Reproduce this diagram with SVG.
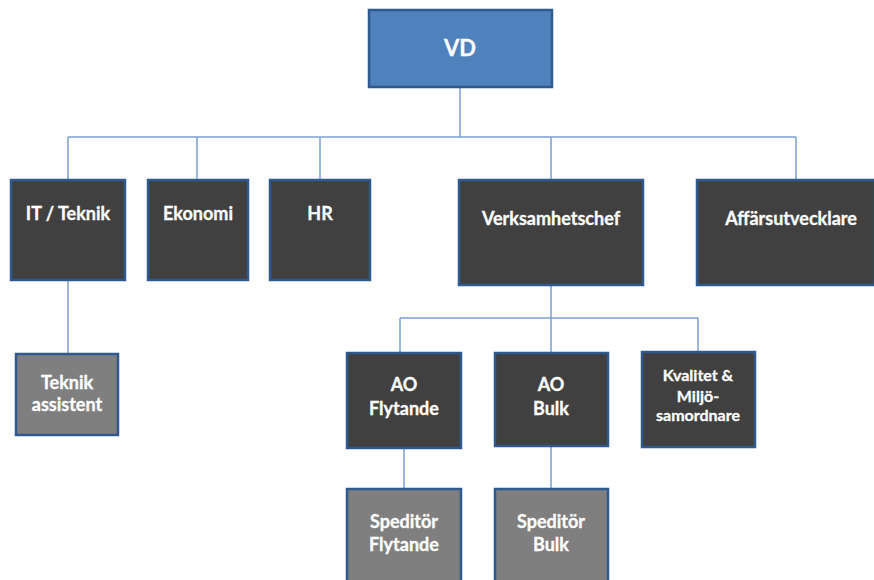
<svg xmlns="http://www.w3.org/2000/svg" width="874" height="580" viewBox="0 0 874 580">
<style>
.c{stroke:#7ba0cf;stroke-width:1.5;fill:none}
.dark{fill:#404040;stroke:#2f5a8f;stroke-width:2.5}
.grey{fill:#7f7f7f;stroke:#2f5a8f;stroke-width:2.5}
.vd{fill:#4f81bd;stroke:#2f5a8f;stroke-width:2.5}
text{font-family:Lato,"Open Sans","Liberation Sans",sans-serif;font-weight:bold;fill:#ffffff;text-anchor:middle;stroke:#ffffff;stroke-width:0.3}
.t{font-size:18px}
.s{font-size:16px}
</style>
<rect width="874" height="580" fill="#ffffff"/>
<g id="connectors">
<path class="c" d="M460,88 V137 M68,137 H796 M68,137 V180 M197,137 V180 M320,137 V180 M551,137 V180 M796,137 V180"/>
<path class="c" d="M68,280 V354"/>
<path class="c" d="M551,285 V318 M400,318 H698 M400,318 V353 M551,318 V353 M698,318 V352"/>
<path class="c" d="M404,448 V489 M551,446 V489"/>
</g>
<g id="vd"><rect class="vd" x="369" y="10" width="183" height="77"/><text x="460" y="56" style="font-size:22px">VD</text></g>
<g id="it"><rect class="dark" x="11" y="180" width="114" height="100"/><text class="t" x="68" y="220">IT / Teknik</text></g>
<g id="ekonomi"><rect class="dark" x="148" y="180" width="100" height="100"/><text class="t" x="198" y="220">Ekonomi</text></g>
<g id="hr"><rect class="dark" x="270" y="180" width="100" height="100"/><text class="t" x="320" y="220">HR</text></g>
<g id="verksamhetschef"><rect class="dark" x="459" y="180" width="184" height="105"/><text class="t" x="551" y="225">Verksamhetschef</text></g>
<g id="affarsutvecklare"><rect class="dark" x="697" y="180" width="178" height="105"/><text class="t" x="791" y="225">Affärsutvecklare</text></g>
<g id="teknikassistent"><rect class="grey" x="16" y="354" width="102" height="81"/><text class="t" x="67" y="389">Teknik</text><text class="t" x="67" y="411">assistent</text></g>
<g id="aoflytande"><rect class="dark" x="347" y="353" width="114" height="95"/><text class="t" x="404" y="391">AO</text><text class="t" x="404" y="415">Flytande</text></g>
<g id="aobulk"><rect class="dark" x="495" y="353" width="113" height="93"/><text class="t" x="551" y="391">AO</text><text class="t" x="551" y="415">Bulk</text></g>
<g id="kvalitet"><rect class="dark" x="642" y="352" width="113" height="95"/><text class="s" x="698" y="381">Kvalitet &amp;</text><text class="s" x="698" y="402">Miljö-</text><text class="s" x="698" y="421">samordnare</text></g>
<g id="speditorflytande"><rect class="grey" x="347" y="489" width="114" height="100"/><text class="t" x="404" y="528">Speditör</text><text class="t" x="404" y="551">Flytande</text></g>
<g id="speditorbulk"><rect class="grey" x="495" y="489" width="113" height="100"/><text class="t" x="551" y="528">Speditör</text><text class="t" x="551" y="551">Bulk</text></g>
</svg>
